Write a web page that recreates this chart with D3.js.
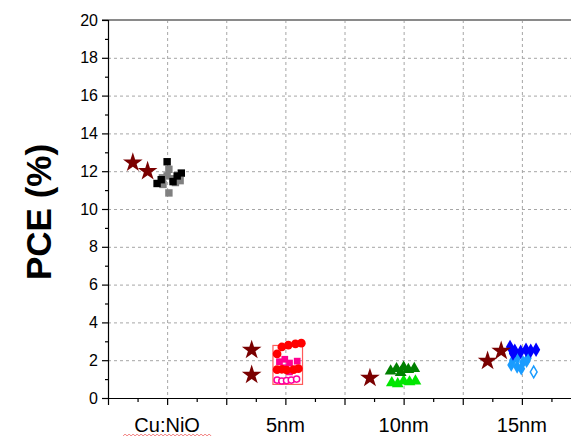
<!DOCTYPE html>
<html>
<head>
<meta charset="utf-8">
<script src="https://cdn.jsdelivr.net/npm/d3@7"></script>
<style>
  body { margin: 0; background: #fff; }
  svg { display: block; font-family: "Liberation Sans", Arial, sans-serif; }
</style>
</head>
<body>
<svg id="chart" width="571" height="437"></svg>
<script>
// categories sit on odd x positions
const categories = ['Cu:NiO', '5nm', '10nm', '15nm'];
const categoryX = [1, 3, 5, 7];
const yTicks = [0, 2, 4, 6, 8, 10, 12, 14, 16, 18, 20];

// [x, PCE] pairs
const stars = [[0.42, 12.45], [0.67, 12.0], [2.43, 2.54], [2.43, 1.22], [4.43, 1.06], [6.42, 1.96], [6.65, 2.49]];

const cuBlack = [[1.0, 12.5], [0.83, 11.35], [1.24, 11.9], [1.17, 11.75], [1.1, 11.45], [0.9, 11.55]];
const cuGray = [[1.03, 12.1], [0.92, 11.65], [1.0, 11.75], [1.22, 11.5], [1.03, 10.85], [0.93, 11.3], [1.1, 11.6], [1.14, 11.4]];

const nm5Red = [[2.94, 2.7], [3.05, 2.8], [3.17, 2.86], [3.27, 2.9], [2.86, 2.33], [2.86, 1.5], [2.94, 1.52], [3.02, 1.48], [3.14, 1.5], [3.22, 1.55]];
const nm5Pink = [[2.9, 1.92], [2.99, 2.05], [3.07, 1.85], [3.2, 1.95], [3.07, 1.38], [3.0, 1.6]];
const nm5Open = [[2.86, 0.95], [2.94, 0.9], [3.02, 0.92], [3.1, 0.95], [3.19, 1.0]];
const nm5Box = [2.79, 3.29, 0.72, 2.78]; // x0, x1, low, high

const nm10Dark = [[4.78, 1.42], [4.88, 1.55], [5.0, 1.62], [5.08, 1.5], [5.18, 1.56], [4.95, 1.35]];
const nm10Light = [[4.8, 0.8], [4.9, 0.75], [5.0, 0.9], [5.1, 0.85], [5.2, 0.9]];

const nm15Blue = [[6.8, 2.7], [6.88, 2.5], [6.98, 2.45], [7.07, 2.55], [7.15, 2.5], [7.24, 2.55], [6.85, 2.35]];
const nm15Light = [[6.85, 2.0], [6.93, 2.15], [7.02, 1.9], [7.1, 2.1], [6.92, 1.65], [6.99, 1.55], [6.82, 1.75], [7.08, 1.95]];
const nm15Open = [[7.2, 1.38]];

const svg = d3.select('#chart');
const x = d3.scaleLinear().domain([0, 8]).range([108, 581]);
const y = d3.scaleLinear().domain([0, 20]).range([398, 20]);

// grid
const grid = svg.append('g')
  .attr('stroke', '#a6a6a6')
  .attr('stroke-dasharray', '3,3')
  .attr('stroke-width', 1);
grid.selectAll('.gy')
  .data(yTicks.filter(d => d > 0 && d < 20))
  .enter().append('line')
  .attr('x1', x(0)).attr('x2', 571)
  .attr('y1', d => y(d) + 0.5).attr('y2', d => y(d) + 0.5);
grid.selectAll('.gx')
  .data(d3.range(1, 8))
  .enter().append('line')
  .attr('x1', d => x(d) + 0.5).attr('x2', d => x(d) + 0.5)
  .attr('y1', y(20)).attr('y2', y(0));

// top frame
svg.append('line')
  .attr('x1', 102).attr('x2', 571)
  .attr('y1', y(20)).attr('y2', y(20))
  .attr('stroke', '#8a8a8a')
  .attr('stroke-width', 2);

// box for 5nm
svg.append('rect')
  .attr('x', x(nm5Box[0]))
  .attr('y', y(nm5Box[3]))
  .attr('width', x(nm5Box[1]) - x(nm5Box[0]))
  .attr('height', y(nm5Box[2]) - y(nm5Box[3]))
  .attr('fill', 'none')
  .attr('stroke', '#ff5a5a')
  .attr('stroke-width', 1.2);

// axes
const yAxis = svg.append('g')
  .attr('transform', `translate(${x(0)},0)`)
  .call(d3.axisLeft(y).tickValues(yTicks).tickSize(6).tickPadding(4));
svg.append('g')
  .attr('transform', `translate(${x(0)},0)`)
  .call(d3.axisLeft(y).tickValues(d3.range(1, 20, 2)).tickSize(3).tickFormat(''))
  .select('.domain').remove();
yAxis.selectAll('text')
  .attr('font-size', 16)
  .attr('fill', '#000');

const xAxis = svg.append('g')
  .attr('transform', `translate(0,${y(0)})`)
  .call(d3.axisBottom(x).tickValues(d3.range(0, 8)).tickSize(7).tickFormat(''));
xAxis.select('.domain').attr('d', `M${x(0)},0.5H571`);
svg.append('g')
  .attr('transform', `translate(0,${y(0)})`)
  .call(d3.axisBottom(x).tickValues(d3.range(0.5, 8, 1)).tickSize(4).tickFormat(''))
  .select('.domain').remove();
svg.selectAll('.domain, .tick line').attr('stroke', '#000').attr('stroke-width', 1.2);

// category labels
svg.selectAll('.cat')
  .data(categories)
  .enter().append('text')
  .attr('x', (d, i) => x(categoryX[i]))
  .attr('y', 432)
  .attr('text-anchor', 'middle')
  .attr('font-size', 20)
  .attr('fill', '#000')
  .text(d => d);

// spell-check squiggle under Cu:NiO
const sq = d3.range(0, 45).map(i => [x(1) - 44 + i * 2, 435 + (i % 2 ? -1 : 1)]);
svg.append('path')
  .attr('d', d3.line()(sq))
  .attr('fill', 'none')
  .attr('stroke', '#f06060')
  .attr('stroke-width', 0.8);

// y title
svg.append('text')
  .attr('transform', 'translate(51,212) rotate(-90)')
  .attr('text-anchor', 'middle')
  .attr('font-size', 35)
  .attr('font-weight', 'bold')
  .attr('fill', '#000')
  .text('PCE (%)');

function plot(data, type, size, fill, stroke, rotate) {
  svg.append('g').selectAll('path')
    .data(data)
    .enter().append('path')
    .attr('d', d3.symbol().type(type).size(size))
    .attr('transform', d => `translate(${x(d[0])},${y(d[1])}) rotate(${rotate || 0})`)
    .attr('fill', fill)
    .attr('stroke', stroke)
    .attr('stroke-width', 1.5);
}

plot(cuGray, d3.symbolSquare, 55, '#808080', 'none');
plot(cuBlack, d3.symbolSquare, 55, '#000', 'none');

plot(nm5Open, d3.symbolCircle, 30, '#fff', '#ff00a0');
plot(nm5Pink, d3.symbolSquare, 45, '#ff0090', 'none');
plot(nm5Red, d3.symbolCircle, 60, '#ff0000', 'none');

plot(nm10Light, d3.symbolTriangle, 60, '#00e600', 'none');
plot(nm10Dark, d3.symbolTriangle, 60, '#008000', 'none');

plot(nm15Light, d3.symbolDiamond, 55, '#1a9cff', 'none');
plot(nm15Open, d3.symbolDiamond, 40, '#fff', '#1a9cff');
plot(nm15Blue, d3.symbolDiamond, 60, '#0000ff', 'none');

plot(stars, d3.symbolStar, 120, '#7a0000', 'none');
</script>
</body>
</html>
